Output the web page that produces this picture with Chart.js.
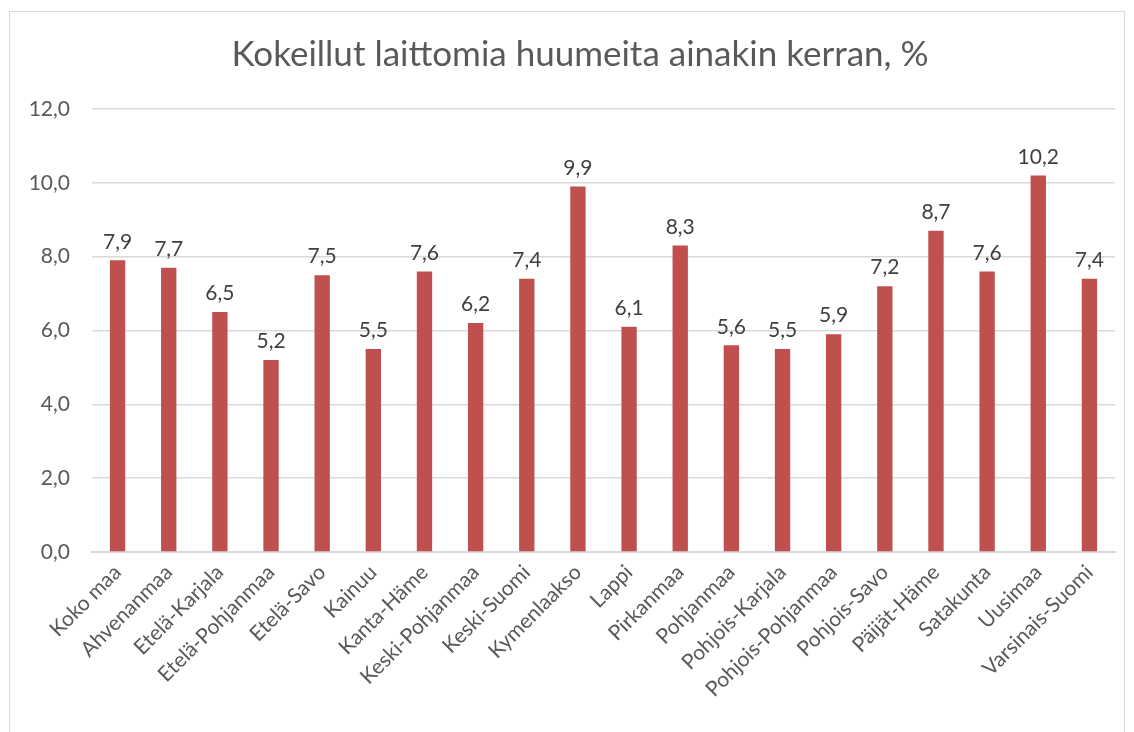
<!DOCTYPE html>
<html><head><meta charset="utf-8">
<script src="https://cdn.jsdelivr.net/npm/chart.js@4/dist/chart.umd.min.js"></script>
<style>html,body{margin:0;padding:0;background:#fff}#wrap{width:1134px;height:732px;position:relative}</style>
</head><body><div id="wrap"><canvas id="c" width="1134" height="732"></canvas></div>
<script>
const categories = ["Koko maa","Ahvenanmaa","Etelä-Karjala","Etelä-Pohjanmaa","Etelä-Savo","Kainuu","Kanta-Häme","Keski-Pohjanmaa","Keski-Suomi","Kymenlaakso","Lappi","Pirkanmaa","Pohjanmaa","Pohjois-Karjala","Pohjois-Pohjanmaa","Pohjois-Savo","Päijät-Häme","Satakunta","Uusimaa","Varsinais-Suomi"];
const values = [7.9,7.7,6.5,5.2,7.5,5.5,7.6,6.2,7.4,9.9,6.1,8.3,5.6,5.5,5.9,7.2,8.7,7.6,10.2,7.4];
const titleText = "Kokeillut laittomia huumeita ainakin kerran, %";
const yMin = 0, yMax = 12, yStep = 2;
const FONT = "Lato, 'Open Sans', sans-serif";
const fmt = v => v.toFixed(1).replace('.', ',');

const frame = {
  id: 'frame',
  beforeDraw(chart) {
    const c = chart.ctx;
    c.save();
    c.fillStyle = '#fff';
    c.fillRect(0, 0, chart.width, chart.height);
    c.strokeStyle = '#d9d9d9';
    c.lineWidth = 1;
    c.strokeRect(9.5, 11.5, 1115, 740);
    c.restore();
  }
};
const labels = {
  id: 'labels',
  afterDatasetsDraw(chart) {
    const c = chart.ctx;
    const meta = chart.getDatasetMeta(0);
    c.save();
    c.font = "21px " + FONT;
    c.fillStyle = '#404040';
    c.textAlign = 'center';
    c.textBaseline = 'bottom';
    meta.data.forEach((bar, i) => {
      c.fillText(fmt(values[i]), bar.x, bar.y - 8);
    });
    c.restore();
  }
};

new Chart(document.getElementById('c'), {
  type: 'bar',
  data: {
    labels: categories,
    datasets: [{
      data: values,
      backgroundColor: '#c0504d',
      categoryPercentage: 1,
      barPercentage: 0.3
    }]
  },
  options: {
    responsive: false,
    animation: false,
    layout: { padding: { left: 26, right: 0, top: 0, bottom: 0 } },
    plugins: {
      legend: { display: false },
      tooltip: { enabled: false },
      title: {
        display: true,
        text: titleText,
        color: '#595959',
        font: { family: FONT, size: 35, weight: 'normal' },
        padding: { top: 34, bottom: 33 }
      }
    },
    scales: {
      x: {
        grid: { display: false, drawTicks: false },
        border: { display: true, color: '#d9d9d9', width: 2 },
        ticks: {
          color: '#595959',
          font: { family: FONT, size: 21 },
          minRotation: 45, maxRotation: 45,
          padding: 8,
          autoSkip: false
        },
        afterFit(s) { s.height = 180; }
      },
      y: {
        min: yMin, max: yMax,
        grid: { color: '#d9d9d9', drawTicks: false, lineWidth: 1.5 },
        border: { display: false },
        ticks: {
          stepSize: yStep,
          color: '#595959',
          font: { family: FONT, size: 21 },
          padding: 22,
          callback: v => fmt(v)
        },
        afterFit(s) { s.width = 66; }
      },
      yRight: {
        position: 'right',
        min: yMin, max: yMax,
        grid: { display: false, drawTicks: false },
        border: { display: false },
        ticks: { display: false },
        afterFit(s) { s.width = 19; }
      }
    }
  },
  plugins: [frame, labels]
});
</script></body></html>
